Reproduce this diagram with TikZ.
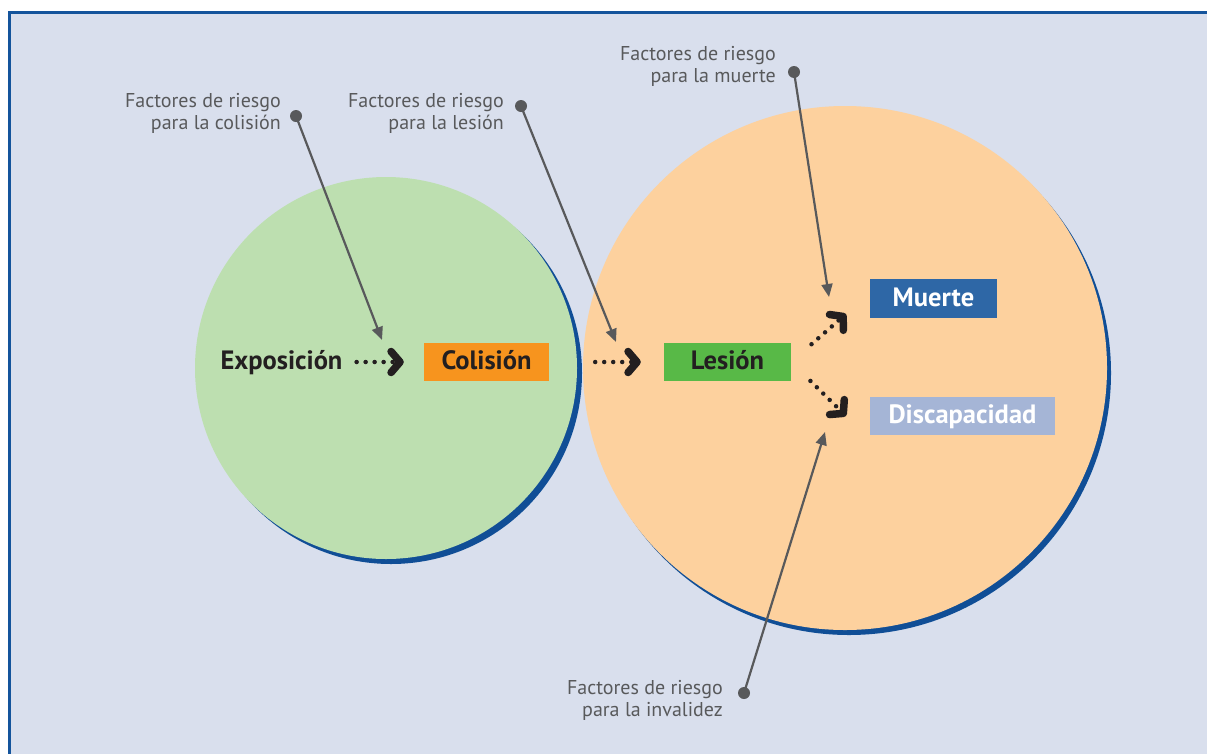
\documentclass[tikz,border=0pt]{standalone}
\usepackage{fontspec}
\setmainfont{PT Sans}
\usetikzlibrary{arrows.meta}
\definecolor{bgc}{RGB}{217,223,237}
\definecolor{framec}{RGB}{20,84,156}
\definecolor{shadowc}{RGB}{16,78,150}
\definecolor{greenc}{RGB}{189,223,176}
\definecolor{orangec}{RGB}{253,209,158}
\definecolor{colc}{RGB}{247,148,30}
\definecolor{lesc}{RGB}{88,185,71}
\definecolor{muec}{RGB}{46,103,166}
\definecolor{disc}{RGB}{165,181,214}
\definecolor{grayc}{RGB}{88,89,91}
\definecolor{inkc}{RGB}{35,31,32}
\tikzset{
  bigtext/.style={inner sep=0pt, text height=18pt, text depth=3pt, font=\fontsize{26.5}{30}\selectfont\bfseries},
  boxnode/.style={bigtext, minimum height=38pt},
  lbl/.style={anchor=north east, inner sep=0pt, align=right, text=grayc, font=\fontsize{20}{21.5}\selectfont},
  pin/.style={circle, fill=grayc, inner sep=0pt, minimum size=12pt},
  pinarrow/.style={draw=grayc, line width=2.2pt, -{Triangle[length=13pt,width=11pt]}},
  flow/.style={draw=inkc, line width=4.5pt, line cap=round, dash pattern=on 0pt off 9pt,
     -{Straight Barb[length=9pt,width=21pt,line width=7.5pt,round]}}
}
\begin{document}
\begin{tikzpicture}[x=1pt,y=-1pt]
\useasboundingbox (0,0) rectangle (1207,753);
\fill[white] (0,0) rectangle (1207,753);
\filldraw[fill=bgc, draw=framec, line width=3pt] (9.5,12.5) rectangle (1215,765);
% circles
\fill[shadowc] (391,373) circle (191);
\fill[greenc] (386,368) circle (191);
\fill[shadowc] (849,373) circle (262);
\fill[orangec] (845,368) circle (262);
% nodes
\node[bigtext, text=inkc] (expo) at (281.5,362) {Exposición};
\node[boxnode, fill=colc, text=inkc, minimum width=125pt] (col) at (486.5,362) {Colisión};
\node[boxnode, fill=lesc, text=inkc, minimum width=127pt] (les) at (727.5,362) {Lesión};
\node[boxnode, fill=muec, text=white, minimum width=127pt, minimum height=39pt] (mue) at (933.5,298.5) {Muerte};
\node[boxnode, fill=disc, text=white, minimum width=185pt] (dis) at (962.5,416) {Discapacidad};
% flow arrows
\coordinate (tm) at (846,314);
\coordinate (td) at (846,416);
\draw[flow, shorten <=14pt, shorten >=20pt] (expo.east) -- (col.west);
\draw[flow, shorten <=46pt, shorten >=23pt] (col.east) -- (les.west);
\draw[flow, shorten <=27pt] (les.east) -- (tm);
\draw[flow, shorten <=27pt] (les.east) -- (td);
% labels
\node[lbl] (l1) at (281,93.5) {Factores de riesgo\\para la colisión};
\node[lbl] (l2) at (504,93.5) {Factores de riesgo\\para la lesión};
\node[lbl] (l3) at (776,46.5) {Factores de riesgo\\para la muerte};
\node[lbl] (l4) at (723,680.5) {Factores de riesgo\\para la invalidez};
\node[pin] (p1) at (296,116) {};
\node[pin] (p2) at (521,106) {};
\node[pin] (p3) at (794,72) {};
\node[pin] (p4) at (744,693) {};
\coordinate (t1) at (382,340);
\coordinate (t2) at (616,342);
\coordinate (t3) at (829,297);
\coordinate (t4) at (825,432);
\draw[pinarrow] (p1.center) -- (t1);
\draw[pinarrow] (p2.center) -- (t2);
\draw[pinarrow] (p3.center) -- (t3);
\draw[pinarrow] (p4.center) -- (t4);
\end{tikzpicture}
\end{document}
